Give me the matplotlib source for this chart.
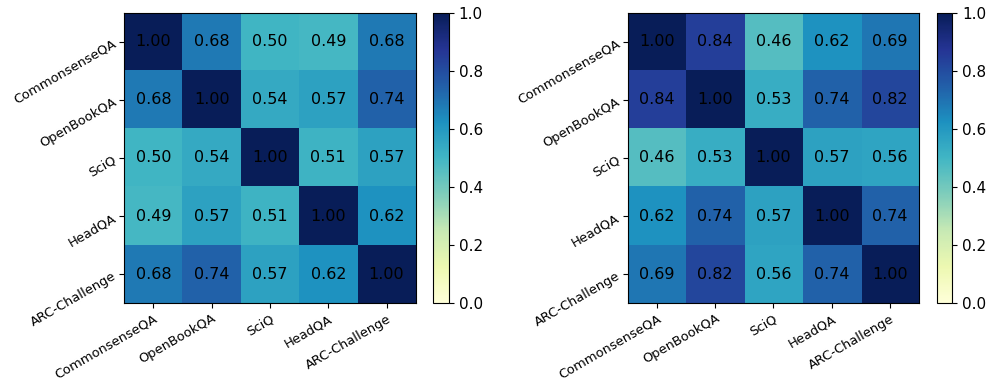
import numpy as np
import matplotlib
matplotlib.use("Agg")
import matplotlib.pyplot as plt

datasets = ["CommonsenseQA", "OpenBookQA", "SciQ", "HeadQA", "ARC-Challenge"]

sim_left = [
    [1.00, 0.68, 0.50, 0.49, 0.68],
    [0.68, 1.00, 0.54, 0.57, 0.74],
    [0.50, 0.54, 1.00, 0.51, 0.57],
    [0.49, 0.57, 0.51, 1.00, 0.62],
    [0.68, 0.74, 0.57, 0.62, 1.00],
]

sim_right = [
    [1.00, 0.84, 0.46, 0.62, 0.69],
    [0.84, 1.00, 0.53, 0.74, 0.82],
    [0.46, 0.53, 1.00, 0.57, 0.56],
    [0.62, 0.74, 0.57, 1.00, 0.74],
    [0.69, 0.82, 0.56, 0.74, 1.00],
]

W, H = 986, 381
fig = plt.figure(figsize=(W / 100, H / 100), dpi=100)


def px_axes(x0, y0, x1, y1):
    return fig.add_axes([x0 / W, 1 - y1 / H, (x1 - x0) / W, (y1 - y0) / H])


def draw(matrix, ax_box, cb_box):
    ax = px_axes(*ax_box)
    cax = px_axes(*cb_box)
    m = np.array(matrix)
    im = ax.imshow(m, cmap="YlGnBu", vmin=0, vmax=1, aspect="auto")
    for i in range(m.shape[0]):
        for j in range(m.shape[1]):
            ax.text(j, i, f"{m[i, j]:.2f}", ha="center", va="center",
                    fontsize=11.5, color="black")
    ax.set_xticks(range(len(datasets)))
    ax.set_yticks(range(len(datasets)))
    ax.set_xticklabels(datasets, rotation=30, ha="right", rotation_mode="anchor",
                       fontsize=9.4)
    ax.set_yticklabels(datasets, rotation=30, ha="right", rotation_mode="anchor",
                       fontsize=9.4)
    ax.tick_params(axis="x", pad=2.8)
    cb = fig.colorbar(im, cax=cax)
    cb.set_ticks([0.0, 0.2, 0.4, 0.6, 0.8, 1.0])
    cb.ax.tick_params(labelsize=11)
    return ax


draw(sim_left, (124.3, 12.7, 415.7, 303.3), (433.3, 12.7, 449.0, 303.3))
draw(sim_right, (627.7, 12.7, 919.0, 303.3), (936.7, 12.7, 952.3, 303.3))

fig.savefig("out.png", dpi=100)
